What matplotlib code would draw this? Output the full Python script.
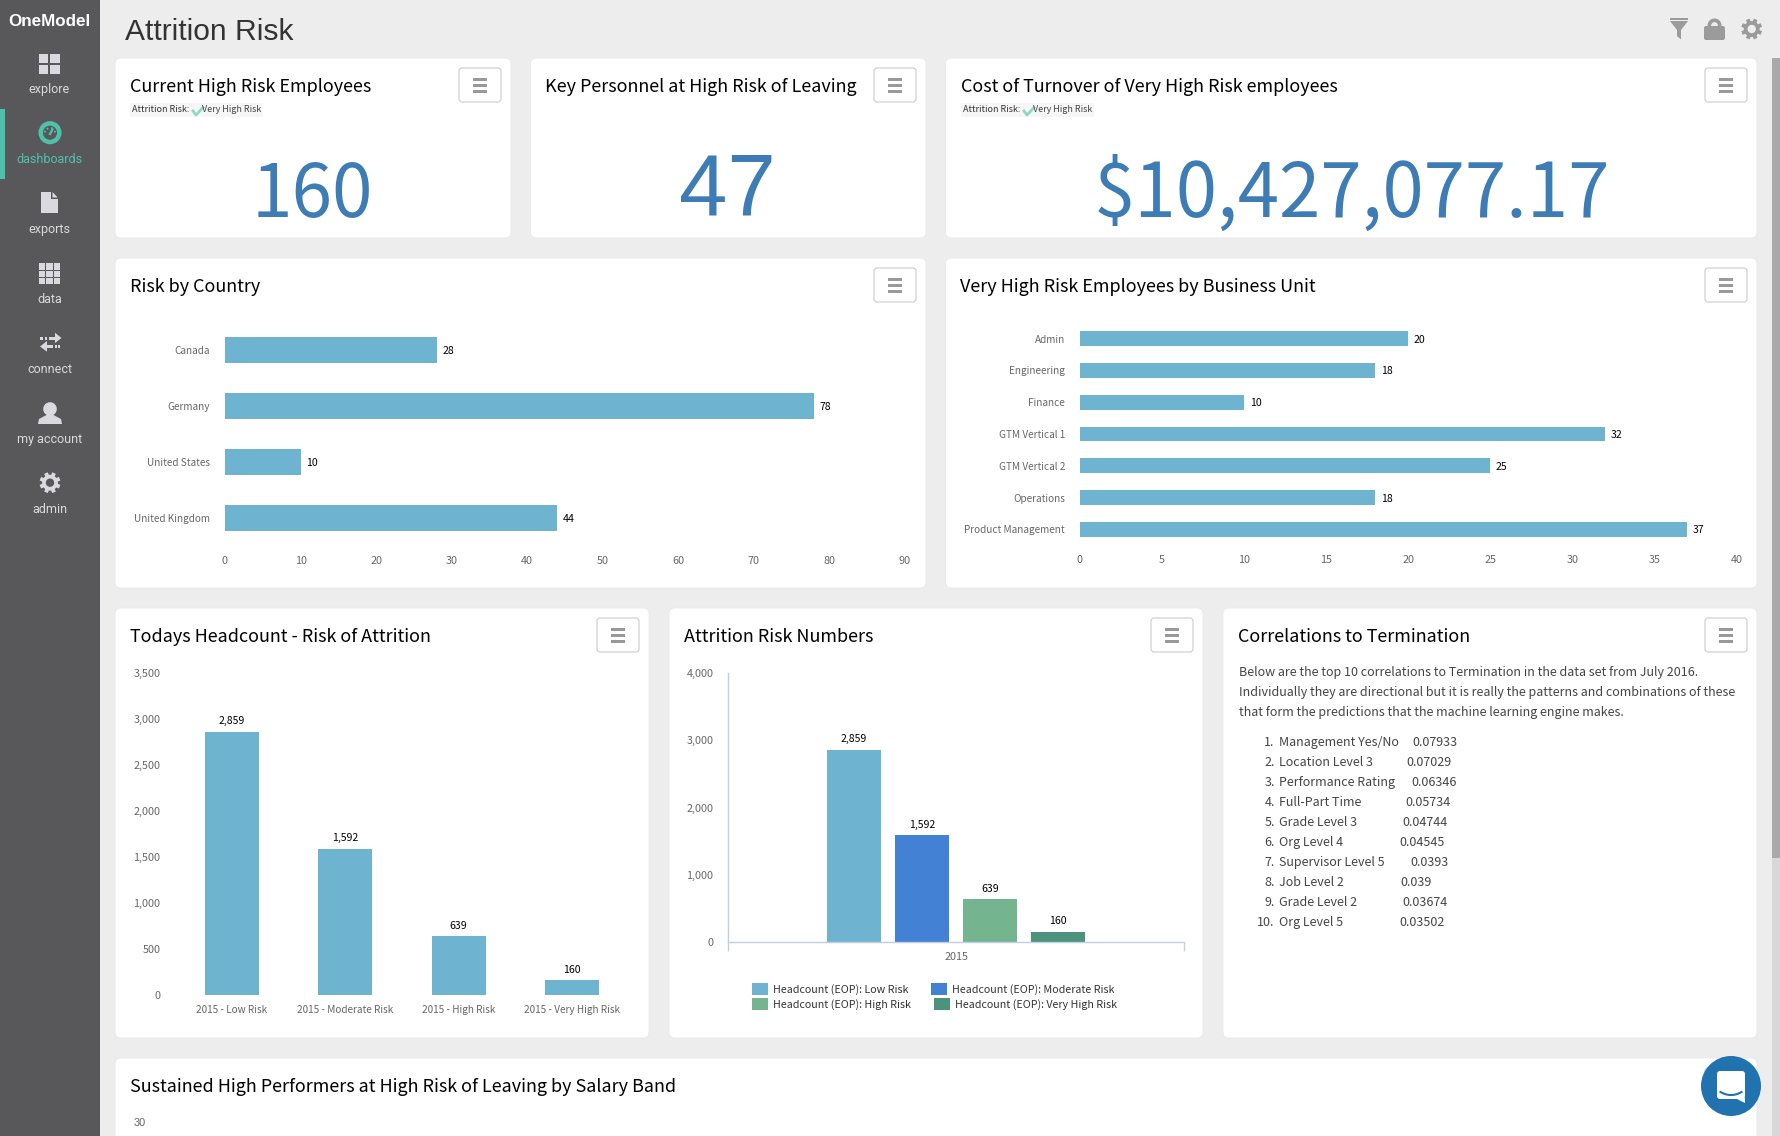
import numpy as np
import matplotlib
matplotlib.use("Agg")
import matplotlib.pyplot as plt
from matplotlib.patches import Circle, FancyBboxPatch, Polygon, Rectangle

W, H = 1781, 1136
PT = 0.72  # px -> pt at dpi 100

plt.rcParams['font.family'] = ['Noto Sans CJK SC', 'DejaVu Sans']

# data
page_title = "Attrition Risk"
nav_labels = ["explore", "dashboards", "exports", "data", "connect", "my account", "admin"]
kpi_titles = ["Current High Risk Employees", "Key Personnel at High Risk of Leaving",
              "Cost of Turnover of Very High Risk employees"]
kpi_values = ["160", "47", "$10,427,077.17"]

countries = ["Canada", "Germany", "United States", "United Kingdom"]
country_risk = [28, 78, 10, 44]
country_ticks = [0, 10, 20, 30, 40, 50, 60, 70, 80, 90]

units = ["Admin", "Engineering", "Finance", "GTM Vertical 1", "GTM Vertical 2",
         "Operations", "Product Management"]
unit_risk = [20, 18, 10, 32, 25, 18, 37]
unit_ticks = [0, 5, 10, 15, 20, 25, 30, 35, 40]

risk_cats = ["2015 - Low Risk", "2015 - Moderate Risk", "2015 - High Risk", "2015 - Very High Risk"]
risk_counts = [2859, 1592, 639, 160]
headcount_ticks = [0, 500, 1000, 1500, 2000, 2500, 3000, 3500]
numbers_ticks = [0, 1000, 2000, 3000, 4000]
series_names = ["Headcount (EOP): Low Risk", "Headcount (EOP): Moderate Risk",
                "Headcount (EOP): High Risk", "Headcount (EOP): Very High Risk"]

corr_intro = ["Below are the top 10 correlations to Termination in the data set from July 2016.",
              "Individually they are directional but it is really the patterns and combinations of these",
              "that form the predictions that the machine learning engine makes."]
corr_names = ["Management Yes/No", "Location Level 3", "Performance Rating", "Full-Part Time",
              "Grade Level 3", "Org Level 4", "Supervisor Level 5", "Job Level 2",
              "Grade Level 2", "Org Level 5"]
corr_values = ["0.07933", "0.07029", "0.06346", "0.05734", "0.04744",
               "0.04545", "0.0393", "0.039", "0.03674", "0.03502"]

# styles
BAR = "#6eb3d0"
SERIES_COLORS = [BAR, "#4281d3", "#74b48f", "#4b937c"]
TICK = "#666666"
ICON = "#d9d9df"
TEAL = "#4fc1aa"
GREY_ICON = "#9b9b9b"
BLUE = "#3e7cb5"
TITLE_PX = 18
CAT_PX = 10
NUM_PX = 10.8
VAL_PX = 10.5
BODY_PX = 12.5
corr_value_x = [1412.5, 1406.5, 1411.5, 1405.5, 1402.5, 1399.5, 1410.5, 1400, 1402.5, 1399.5]

fig = plt.figure(figsize=(W / 100, H / 100), dpi=100, facecolor="#ededed")
bg = fig.add_axes([0, 0, 1, 1])
bg.set_xlim(0, W)
bg.set_ylim(H, 0)
bg.axis("off")


def txt(x, y, s, px, color="#000000", ha="left", family=None, **kw):
    if family:
        kw["family"] = family
    return bg.text(x, y, s, fontsize=px * PT, color=color, ha=ha, va="center", **kw)


def rect(x0, y0, x1, y1, color, **kw):
    bg.add_patch(Rectangle((x0, y0), x1 - x0, y1 - y0, facecolor=color, edgecolor="none", **kw))


def card(x0, y0, x1, y1, title, tx, ty, button=True):
    bg.add_patch(FancyBboxPatch((x0 + 4, y0 + 4), x1 - x0 - 8, y1 - y0 - 8,
                                boxstyle="round,pad=4,rounding_size=6",
                                facecolor="white", edgecolor="#e9e9e9", linewidth=0.6))
    txt(tx, ty, title, TITLE_PX)
    if button:
        bx1, bx0 = x1 - 10, x1 - 52
        by0, by1 = y0 + 10, y0 + 44
        bg.add_patch(FancyBboxPatch((bx0 + 3, by0 + 3), bx1 - bx0 - 6, by1 - by0 - 6,
                                    boxstyle="round,pad=3,rounding_size=3",
                                    facecolor="white", edgecolor="#cccccc", linewidth=0.8))
        for dy in (21, 27, 33):
            rect(bx0 + 14, y0 + dy - 1.5, bx0 + 28, y0 + dy + 1.5, "#999999")


def gear(cx, cy, r, color, hole):
    ang = np.linspace(0, 2 * np.pi, 8, endpoint=False) + np.pi / 8
    for a in ang:
        bg.plot([cx, cx + r * 0.95 * np.cos(a)], [cy, cy + r * 0.95 * np.sin(a)],
                color=color, lw=2.8, solid_capstyle="butt", zorder=2)
    bg.add_patch(Circle((cx, cy), r * 0.72, facecolor=color, edgecolor="none", zorder=3))
    bg.add_patch(Circle((cx, cy), r * 0.38, facecolor=hole, edgecolor="none", zorder=3))


def chip(x0, y0):
    rect(x0, y0, x0 + 133, y0 + 13.5, "#f6f6f6")
    txt(x0 + 2.5, y0 + 6.5, "Attrition Risk:", 9, color="#333333")
    bg.plot([x0 + 63, x0 + 66, x0 + 73], [y0 + 8, y0 + 12, y0 + 4.5], color="#8fd8c6", lw=2)
    txt(x0 + 72, y0 + 6.5, "Very High Risk", 9, color="#444444")


def axes_px(x0, y0, x1, y1):
    ax = fig.add_axes([x0 / W, 1 - y1 / H, (x1 - x0) / W, (y1 - y0) / H])
    ax.patch.set_alpha(0)
    for s in ax.spines.values():
        s.set_visible(False)
    return ax


def style_ticks(ax):
    ax.tick_params(axis="both", length=0, pad=15 * PT, labelsize=NUM_PX * PT, labelcolor=TICK)


def value_labels(ax, bars, labels=None, shift=0):
    anns = ax.bar_label(bars, labels=labels, padding=5.5 * PT, fontsize=VAL_PX * PT, color="black")
    for a in anns:
        a.xyann = (a.xyann[0], a.xyann[1] + shift * PT)


# sidebar
rect(0, 0, 100, H, "#58585a")
txt(49.5, 21, "OneModel", 17, color="white", ha="center", family="Liberation Sans",
    weight="bold")
rect(0, 109, 5, 179, TEAL)
nav_y = [89, 159.5, 229, 299.5, 369.5, 439, 509.5]
for lab, y in zip(nav_labels, nav_y):
    txt(49.5, y, lab, 12.5, color=TEAL if lab == "dashboards" else ICON, ha="center", family="Roboto")

# explore
for x0 in (38.7, 50.2):
    for y0 in (53.7, 64.5):
        rect(x0, y0, x0 + 9.5, y0 + 9.5, ICON)
# dashboards
bg.add_patch(Circle((50, 132.7), 9.3, facecolor="none", edgecolor=TEAL, linewidth=3.2))
for dx, dy in [(-5, -1), (-2.5, -4), (2, -4.5), (5, -1)]:
    bg.add_patch(Circle((50 + dx, 132.7 + dy), 1, facecolor=TEAL, edgecolor="none"))
bg.plot([50, 52.5], [134, 129.5], color=TEAL, lw=1.6)
# exports
bg.add_patch(Polygon([(40.7, 192), (51, 192), (51, 199), (57.7, 199), (57.7, 213.3), (40.7, 213.3)],
                     facecolor=ICON, edgecolor="none"))
bg.add_patch(Polygon([(52.5, 192), (57.7, 197.5), (52.5, 197.5)], facecolor=ICON, edgecolor="none"))
# data
for x0 in (39, 46.3, 53.6):
    for y0 in (263.3, 270.6, 277.9):
        rect(x0, y0, x0 + 6.3, y0 + 6.3, ICON)
# connect
for x0 in (40.5, 45):
    rect(x0, 336.5, x0 + 2.5, 339.5, ICON)
rect(49, 336.5, 56, 339.5, ICON)
bg.add_patch(Polygon([(55, 332.7), (61.5, 338), (55, 343)], facecolor=ICON, edgecolor="none"))
for x0 in (55, 58.5):
    rect(x0, 345, x0 + 2, 348, ICON)
rect(46, 345, 53, 348, ICON)
bg.add_patch(Polygon([(47, 341), (40, 346.5), (47, 351.7)], facecolor=ICON, edgecolor="none"))
# my account
bg.add_patch(Circle((50, 409), 6.8, facecolor=ICON, edgecolor="none"))
bg.add_patch(Polygon([(38, 424), (39, 419), (46.5, 415), (53.5, 415), (61, 419), (62, 424)],
                     facecolor=ICON, edgecolor="none"))
# admin
gear(50, 482.7, 11, ICON, "#58585a")

# header
txt(125, 32.5, page_title, 30, color="#333333", family="Liberation Sans")
bg.add_patch(Polygon([(1670, 21), (1688, 21), (1681, 30), (1681, 39.5), (1677, 36), (1677, 30)],
                     facecolor=GREY_ICON, edgecolor="none"))
rect(1670, 18, 1688, 19.5, GREY_ICON)
bg.add_patch(FancyBboxPatch((1706, 28), 17, 10, boxstyle="round,pad=2,rounding_size=2",
                            facecolor=GREY_ICON, edgecolor="none"))
bg.add_patch(Circle((1714.5, 25.5), 5.2, facecolor="none", edgecolor=GREY_ICON, linewidth=2.6))
gear(1751.7, 29, 11, GREY_ICON, "#ededed")

# scrollbar
rect(1772, 58, 1781, H, "#d8d8d8")
rect(1772, 58, 1781, 858, "#a9a9a9")

# cards
card(115, 58, 511, 238, kpi_titles[0], 130, 87.5)
card(530.5, 58, 926, 238, kpi_titles[1], 545.5, 87.5)
card(945.5, 58, 1757, 238, kpi_titles[2], 961, 87.5)
card(115, 258, 926, 588, "Risk by Country", 130, 287.5)
card(945.5, 258, 1757, 588, "Very High Risk Employees by Business Unit", 960.5, 287.5)
card(115, 608, 649, 1038, "Todays Headcount - Risk of Attrition", 130, 637)
card(669, 608, 1203, 1038, "Attrition Risk Numbers", 684, 637)
card(1223, 608, 1757, 1038, "Correlations to Termination", 1238, 637)
card(115, 1058, 1757, 1180, "Sustained High Performers at High Risk of Leaving by Salary Band", 130, 1087)
bg.set_xlim(0, W)
bg.set_ylim(H, 0)

chip(130, 103)
chip(961, 103)
txt(312.5, 196, kpi_values[0], 73, color=BLUE, ha="center")
# the 47 is in Arial in the reference, not the card font
txt(727, 193.3, kpi_values[1], 87, color=BLUE, ha="center", family="Liberation Sans")
txt(1352, 195, kpi_values[2], 74.5, color=BLUE, ha="center")

# risk by country
ax = axes_px(225, 322, 905, 546)
b = ax.barh(countries, country_risk, height=0.464, color=BAR)
value_labels(ax, b, shift=-1)
ax.set_xlim(0, 90)
ax.set_ylim(3.5, -0.5)
ax.set_xticks(country_ticks)
style_ticks(ax)
ax.tick_params(axis="y", labelsize=CAT_PX * PT)
ax.tick_params(axis="x", pad=10 * PT)

# business unit
ax = axes_px(1080, 322.6, 1736.5, 545.4)
b = ax.barh(units, unit_risk, height=0.47, color=BAR)
value_labels(ax, b, shift=-1)
ax.set_xlim(0, 40)
ax.set_ylim(6.5, -0.5)
ax.set_xticks(unit_ticks)
style_ticks(ax)
ax.tick_params(axis="y", labelsize=CAT_PX * PT)
ax.tick_params(axis="x", pad=10 * PT)

# todays headcount
ax = axes_px(175.3, 673, 628.7, 995)
b = ax.bar(risk_cats, risk_counts, width=0.477, color=BAR)
value_labels(ax, b, [f"{v:,}" for v in risk_counts])
ax.set_xlim(-0.5, 3.5)
ax.set_ylim(0, 3500)
ax.set_yticks(headcount_ticks, [f"{v:,}" for v in headcount_ticks], va="center_baseline")
style_ticks(ax)
ax.tick_params(axis="x", pad=10 * PT, labelsize=CAT_PX * PT)

# attrition risk numbers
ax = axes_px(728.4, 673, 1183.7, 942.3)
offsets = [-0.224, -0.075, 0.075, 0.224]
for off, val, col in zip(offsets, risk_counts, SERIES_COLORS):
    b = ax.bar(off, val, width=0.1186, color=col)
    value_labels(ax, b, [f"{val:,}"])
ax.set_xlim(-0.5, 0.5)
ax.set_ylim(0, 4000)
ax.set_yticks(numbers_ticks, [f"{v:,}" for v in numbers_ticks], va="center_baseline")
style_ticks(ax)
ax.set_xticks([-0.5, 0.5], ["", ""])
ax.set_xticks([0], ["2015"], minor=True)
ax.tick_params(axis="x", which="major", length=9.4 * PT, width=1, color="#c0d0e0")
ax.tick_params(axis="x", which="minor", length=0, pad=10 * PT, labelsize=NUM_PX * PT, labelcolor=TICK)
for side in ("left", "bottom"):
    ax.spines[side].set_visible(True)
    ax.spines[side].set_color("#c0d0e0")
    ax.spines[side].set_linewidth(1)

legend_pos = [(752, 983, 773), (931, 983, 952), (752, 998, 773), (933.6, 998, 955)]
for (sx, sy, tx), name, col in zip(legend_pos, series_names, SERIES_COLORS):
    rect(sx, sy, sx + 16.5, sy + 12, col)
    txt(tx, sy + 6.5, name, 10.7, color="#333333")

# correlations text
for i, line in enumerate(corr_intro):
    txt(1239.4, 672.3 + 20 * i, line, BODY_PX, color="#444444")
for i, (name, val) in enumerate(zip(corr_names, corr_values)):
    y = 742.3 + 20 * i
    txt(1274.7, y, f"{i + 1}.", BODY_PX, color="#444444", ha="right")
    txt(1279.4, y, name, BODY_PX, color="#444444")
    txt(corr_value_x[i], y, val, BODY_PX, color="#444444")

# start of the chart that is cut off at the bottom
txt(140, 1123, "30", 11, color=TICK, ha="center", family="Liberation Sans")

# chat bubble
bg.add_patch(Circle((1731, 1086), 30, facecolor="#2173b0", edgecolor="none", zorder=5))
bg.add_patch(FancyBboxPatch((1720, 1074), 22, 22, boxstyle="round,pad=3,rounding_size=3",
                            facecolor="white", edgecolor="none", zorder=6))
bg.add_patch(Polygon([(1735, 1098), (1745, 1098), (1745, 1103)], facecolor="white",
                     edgecolor="none", zorder=6))
t = np.linspace(-1, 1, 30)
bg.plot(1731 + 10.5 * t, 1092 + 3 * (1 - t ** 2), color="#2173b0", lw=1.5, zorder=7)

fig.savefig("out.png", dpi=100, facecolor=fig.get_facecolor())
